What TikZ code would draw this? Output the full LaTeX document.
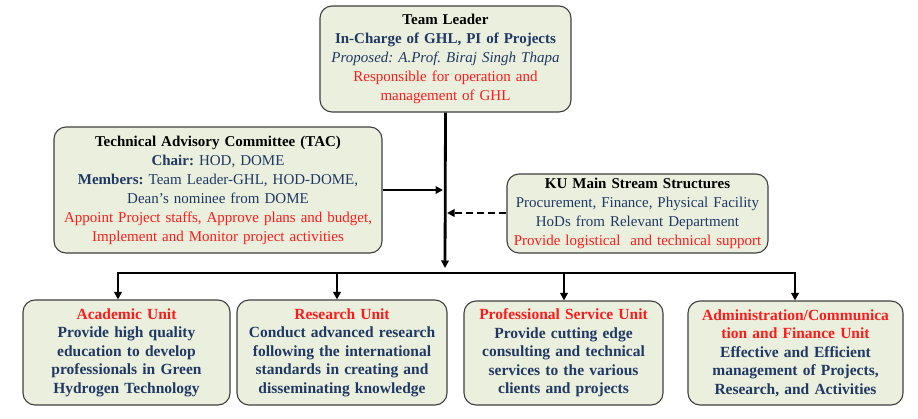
\documentclass[tikz,border=0pt]{standalone}
\usepackage{fontspec}
\setmainfont{Liberation Serif}
\usetikzlibrary{arrows.meta}
\definecolor{boxfill}{HTML}{EBF0DE}
\definecolor{boxline}{HTML}{3F3F3F}
\definecolor{navy}{HTML}{1F3864}
\definecolor{redtxt}{HTML}{FF1A1A}
\frenchspacing
\tikzset{
  unitbox/.style={draw=boxline, fill=boxfill, line width=1.1pt, rounded corners=12pt,
    align=center, inner sep=2pt, font=\fontsize{15}{19}\selectfont},
  lowbox/.style={unitbox, font=\fontsize{15.5}{18.5}\selectfont\bfseries},
  conn/.style={line width=2.8pt, -{Triangle[length=7.5pt,width=7.5pt]}},
  plainconn/.style={line width=2.8pt},
}
\begin{document}
\begin{tikzpicture}[x=1pt,y=-1pt]
\useasboundingbox (0,0) rectangle (918,418);

\node[unitbox, minimum width=251pt, minimum height=106pt, text width=245pt] (tl) at (445.5,59)
 {\textbf{Team Leader}\\
  \textcolor{navy}{\textbf{In-Charge of GHL, PI of Projects}}\\
  \textcolor{navy}{\textit{Proposed: A.Prof. Biraj Singh Thapa}}\\
  \textcolor{redtxt}{Responsible for operation and}\\
  \textcolor{redtxt}{management of GHL}};

\node[unitbox, minimum width=328pt, minimum height=126pt, text width=322pt] (tac) at (218,190)
 {\textbf{Technical Advisory Committee (TAC)}\\
  \textcolor{navy}{\textbf{Chair:} HOD, DOME}\\
  \textcolor{navy}{\textbf{Members:} Team Leader-GHL, HOD-DOME,}\\
  \textcolor{navy}{Dean’s nominee from DOME}\\
  \textcolor{redtxt}{Appoint Project staffs, Approve plans and budget,}\\
  \textcolor{redtxt}{Implement and Monitor project activities}};

\node[unitbox, minimum width=261pt, minimum height=79pt, text width=257pt] (ku) at (637.5,213.5)
 {\textbf{KU Main Stream Structures}\\
  \textcolor{navy}{Procurement, Finance, Physical Facility}\\
  \textcolor{navy}{HoDs from Relevant Department}\\
  \textcolor{redtxt}{Provide logistical\ \ and technical\ support}};

\node[lowbox, minimum width=207pt, minimum height=105pt, text width=203pt] (acad) at (126.5,352.5)
 {\textcolor{redtxt}{Academic Unit}\\
  \textcolor{navy}{Provide high quality}\\
  \textcolor{navy}{education to develop}\\
  \textcolor{navy}{professionals in Green}\\
  \textcolor{navy}{Hydrogen Technology}};
\node[lowbox, minimum width=210pt, minimum height=105pt, text width=206pt] (res) at (342,352.5)
 {\textcolor{redtxt}{Research Unit}\\
  \textcolor{navy}{Conduct advanced research}\\
  \textcolor{navy}{following the international}\\
  \textcolor{navy}{standards in creating and}\\
  \textcolor{navy}{disseminating\ knowledge}};
\node[lowbox, minimum width=199pt, minimum height=104pt, text width=195pt] (prof) at (563.5,353)
 {\textcolor{redtxt}{Professional\ Service Unit}\\
  \textcolor{navy}{Provide cutting edge}\\
  \textcolor{navy}{consulting\ and technical}\\
  \textcolor{navy}{services\ to the various}\\
  \textcolor{navy}{clients\ and projects}};
\node[lowbox, minimum width=215pt, minimum height=104pt, text width=211pt] (admin) at (795.5,353)
 {\textcolor{redtxt}{Administration/Communica}\\
  \textcolor{redtxt}{tion and Finance Unit}\\
  \textcolor{navy}{Effective and Efficient}\\
  \textcolor{navy}{management of Projects,}\\
  \textcolor{navy}{Research, and Activities}};

\coordinate (trunkend) at (445,268);
\coordinate (busL) at (118,273);
\coordinate (busR) at (795,273);
\coordinate (busres) at (337,273);
\coordinate (busprof) at (564,273);
\coordinate (tacin) at (443,190);
\coordinate (kuin) at (447,213);

\draw[conn] (tl.south) -- (trunkend);
\draw[conn] (tac.east |- tacin) -- (tacin);
\draw[conn, dashed, dash pattern=on 7pt off 4pt] (ku.west |- kuin) -- (kuin);
\draw[plainconn, line cap=rect] (busL) -- (busR);
\draw[conn] (busL) -- (busL |- acad.north);
\draw[conn] (busres) -- (busres |- res.north);
\draw[conn] (busprof) -- (busprof |- prof.north);
\draw[conn] (busR) -- (busR |- admin.north);
\end{tikzpicture}
\end{document}
